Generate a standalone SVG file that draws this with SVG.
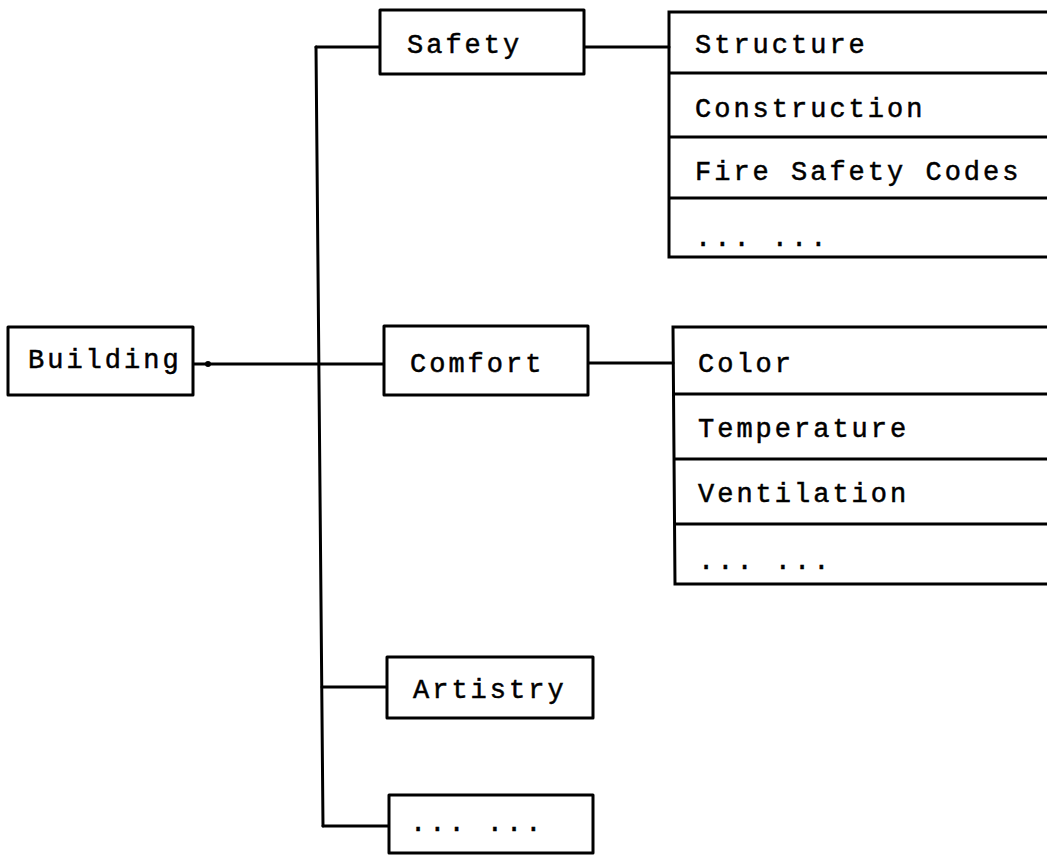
<svg xmlns="http://www.w3.org/2000/svg" width="1047" height="855" viewBox="0 0 1047 855">
<style>
.box{fill:#fff;stroke:#000;stroke-width:3;stroke-linejoin:round}
.ln{fill:none;stroke:#000;stroke-width:3;stroke-linecap:round}
.t{font-family:"Liberation Mono","Courier New",monospace;font-size:27px;letter-spacing:3px;fill:#000;stroke:#000;stroke-width:0.5}
</style>
<rect width="1047" height="855" fill="#fff"/>
<g id="connectors">
<line class="ln" x1="316" y1="47" x2="323" y2="826"/>
<line class="ln" x1="316" y1="47" x2="380" y2="47"/>
<line class="ln" x1="193" y1="364" x2="384" y2="364"/>
<circle cx="208" cy="364" r="3" fill="#000"/>
<line class="ln" x1="322" y1="687" x2="387" y2="687"/>
<line class="ln" x1="323" y1="826" x2="389" y2="826"/>
<line class="ln" x1="584" y1="47" x2="669" y2="47"/>
<line class="ln" x1="588" y1="363" x2="673" y2="363"/>
</g>
<g id="building">
<rect class="box" x="8" y="327" width="185" height="68"/>
<text class="t" x="28" y="368">Building</text>
</g>
<g id="safety">
<rect class="box" x="380" y="10" width="204" height="64"/>
<text class="t" x="407" y="53">Safety</text>
</g>
<g id="comfort">
<rect class="box" x="384" y="326" width="204" height="69"/>
<text class="t" x="410" y="372">Comfort</text>
</g>
<g id="artistry">
<rect class="box" x="387" y="657" width="206" height="61"/>
<text class="t" x="413" y="698">Artistry</text>
</g>
<g id="more">
<rect class="box" x="389" y="795" width="204" height="58"/>
<text class="t" x="410" y="831">... ...</text>
</g>
<g id="safety-list">
<path class="ln" d="M1050 12 H669 V257 H1050 M669 73 H1050 M669 137 H1050 M669 198 H1050"/>
<text class="t" x="695" y="53">Structure</text>
<text class="t" x="695" y="117">Construction</text>
<text class="t" x="695" y="180">Fire Safety Codes</text>
<text class="t" x="695" y="246">... ...</text>
</g>
<g id="comfort-list">
<path class="ln" d="M1050 327 H673 L675 584 H1050 M674 394 H1050 M674 459 H1050 M675 524 H1050"/>
<text class="t" x="698" y="372">Color</text>
<text class="t" x="698" y="437">Temperature</text>
<text class="t" x="698" y="502">Ventilation</text>
<text class="t" x="698" y="569">... ...</text>
</g>
</svg>
